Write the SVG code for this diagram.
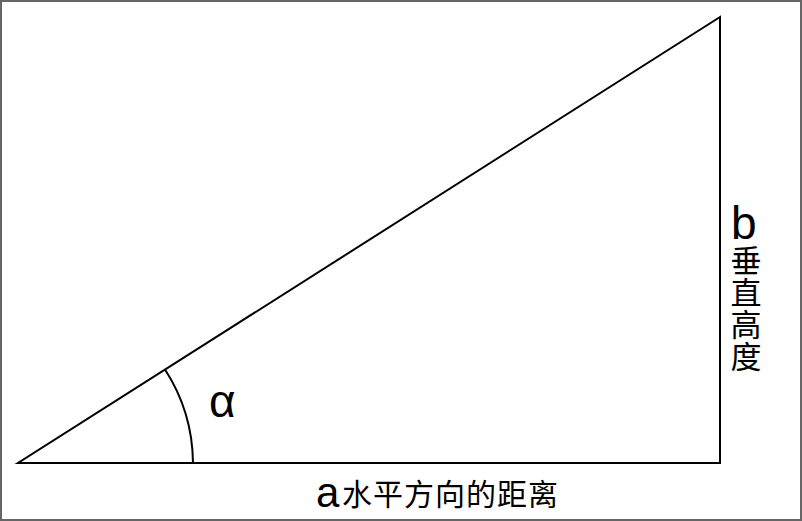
<svg xmlns="http://www.w3.org/2000/svg" width="802" height="521" viewBox="0 0 802 521">
<style>
.ln{fill:none;stroke:#000;stroke-width:2}
.lat{font-family:"Liberation Sans",Arial,sans-serif;fill:#000}
.cjk{font-family:"Noto Sans CJK SC","Liberation Sans",sans-serif;fill:#000}
</style>
<rect x="0" y="0" width="802" height="521" fill="#fff"/>
<rect x="1" y="1" width="800" height="519" fill="none" stroke="#666" stroke-width="2"/>
<g id="triangle">
<path class="ln" d="M18,463 L720,463 L720,17 Z"/>
</g>
<g id="connectors">
<path class="ln" d="M165,369.5 A175,175 0 0 1 193,463"/>
</g>
<g id="alpha">
<text class="lat" x="209" y="417" font-size="46">α</text>
</g>
<g id="label-b">
<text class="lat" x="731" y="239" font-size="46">b</text>
<text class="cjk" x="746" y="245" font-size="31" letter-spacing="1" style="writing-mode:vertical-rl">垂直高度</text>
</g>
<g id="label-a">
<text class="lat" x="316" y="507" font-size="42">a</text>
<text class="cjk" x="342" y="505" font-size="30" letter-spacing="1">水平方向的距离</text>
</g>
</svg>
